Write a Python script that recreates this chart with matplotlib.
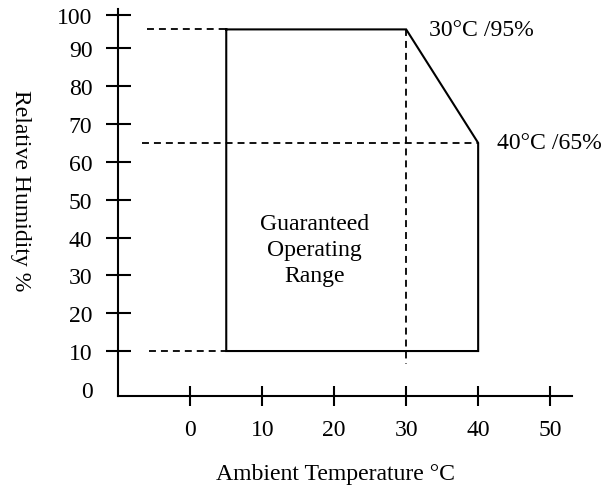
import matplotlib
matplotlib.use("Agg")
import matplotlib.pyplot as plt

# operating envelope (temperature degC, relative humidity %)
env_temp = [5, 30, 40, 40, 5, 5]
env_rh = [95, 95, 65, 10, 10, 95]

x_ticks = [0, 10, 20, 30, 40, 50]
y_ticks = [0, 10, 20, 30, 40, 50, 60, 70, 80, 90, 100]
# the source drawing puts the "100" tick a little low
y_tick_pos = [0, 10, 20, 30, 40, 50, 60, 70, 80, 90, 98.8]

plt.rcParams["font.family"] = ["Liberation Serif", "DejaVu Serif"]
plt.rcParams["font.size"] = 17.1
plt.rcParams["lines.scale_dashes"] = False

fig = plt.figure(figsize=(6.02, 4.89), dpi=100)
ax = fig.add_axes([0.1965, 0.1888, 0.7532, 0.7908])
ax.set_xlim(-10, 53)
ax.set_ylim(-1.8, 100.4)

ax.spines["top"].set_visible(False)
ax.spines["right"].set_visible(False)
ax.spines["left"].set_linewidth(1.5)
ax.spines["bottom"].set_linewidth(1.5)

dash = (0, (5, 3.6))
dkw = dict(color="black", lw=1.3, linestyle=dash)
ax.plot([-6, 5], [95, 95], **dkw)
ax.plot([-6.7, 40], [65, 65], **dkw)
ax.plot([-5.7, 5], [10, 10], **dkw)
ax.plot([30, 30], [95, 6.5], **dkw)

ax.plot(env_temp, env_rh, color="black", lw=1.5, solid_joinstyle="miter")

ax.text(33.2, 95, "30°C /95%", va="center", ha="left")
ax.text(42.6, 65, "40°C /65%", va="center", ha="left")
ax.text(17.3, 36.9, "Guaranteed\nOperating\nRange", ha="center", va="center",
        linespacing=1.3)

ax.set_xticks(x_ticks)
ax.set_xticklabels([str(v) for v in x_ticks])
ax.set_yticks(y_tick_pos)
ax.set_yticklabels([str(v) for v in y_ticks])
ax.tick_params(axis="x", direction="inout", length=14, width=1.5, pad=10)
ax.tick_params(axis="y", direction="inout", length=18, width=1.5, pad=9.6)
ax.yaxis.get_major_ticks()[0].tick1line.set_visible(False)

fig.text(335.5 / 602, 1 - 475 / 489, "Ambient Temperature °C", ha="center", va="center")
fig.text(20 / 602, 1 - 190.6 / 489, "Relative Humidity %", ha="center", va="center",
         rotation=-90)

fig.savefig("out.png", dpi=100)
